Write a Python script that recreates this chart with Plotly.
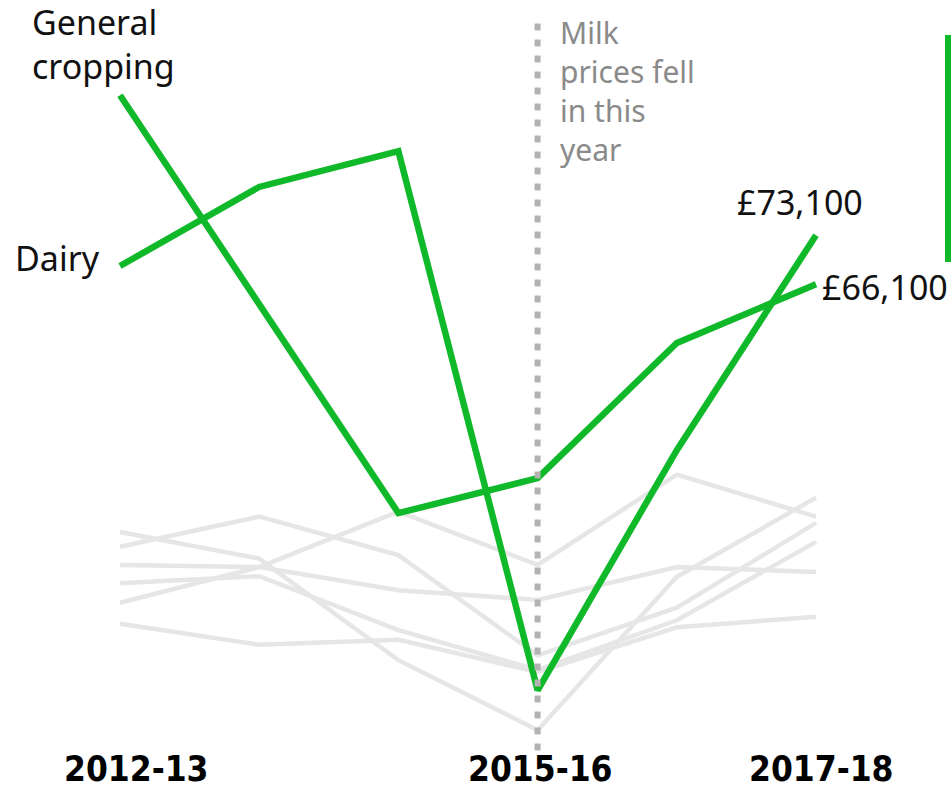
import plotly.graph_objects as go

years = ["2012-13", "2013-14", "2014-15", "2015-16", "2016-17", "2017-18"]
shown_years = ["2012-13", "2015-16", "2017-18"]
year_label_shift = {"2012-13": 17, "2015-16": 3, "2017-18": 5}

# Farm business income, £ thousands
general_cropping = [93.1, 63.1, 33.4, 38.4, 57.7, 66.1]
dairy = [68.7, 80.0, 85.1, 8.1, 42.4, 73.1]

other_farm_types = [
    [28.6, 32.9, 27.4, 13.1, 19.9, 32.0],
    [30.7, 26.9, 12.4, 2.4, 24.3, 35.6],
    [26.0, 25.7, 22.4, 21.0, 25.7, 25.0],
    [23.4, 24.4, 16.7, 11.0, 18.1, 29.3],
    [20.6, 25.7, 33.6, 26.0, 38.9, 32.9],
    [17.6, 14.6, 15.3, 10.7, 17.1, 18.6],
]

end_labels = ["£73,100", "£66,100"]

GREEN = "#10B92A"
GREY = "#E6E6E6"
DOT = "#B3B3B3"
FONT = "Noto Sans"

xs = list(range(len(years)))
fig = go.Figure()

for series in other_farm_types:
    fig.add_trace(go.Scatter(x=xs, y=series, mode="lines",
                             line=dict(color=GREY, width=4.5), hoverinfo="skip"))

for series in (general_cropping, dairy):
    fig.add_trace(go.Scatter(x=xs, y=series, mode="lines",
                             line=dict(color=GREEN, width=6.5), hoverinfo="skip"))

# dotted marker for 2015-16
mark = years.index("2015-16")
fig.add_trace(go.Scatter(x=[mark, mark], y=[-0.5, 103.5], mode="lines",
                         line=dict(color=DOT, width=6, dash="7px,9px"),
                         hoverinfo="skip"))

ann = []
ann.append(dict(x=0, y=general_cropping[0], xref="x", yref="y",
                text="General<br>cropping", showarrow=False,
                xanchor="left", yanchor="bottom", xshift=-90, yshift=4,
                align="left", font=dict(family=FONT, size=34, color="#111")))
ann.append(dict(x=0, y=dairy[0], xref="x", yref="y", text="Dairy",
                showarrow=False, xanchor="right", yanchor="middle",
                xshift=-18, yshift=8, font=dict(family=FONT, size=34, color="#111")))
ann.append(dict(x=5, y=dairy[-1], xref="x", yref="y", text=end_labels[0],
                showarrow=False, xanchor="center", yanchor="bottom",
                xshift=-16, yshift=8, font=dict(family=FONT, size=34, color="#111")))
ann.append(dict(x=5, y=general_cropping[-1], xref="x", yref="y", text=end_labels[1],
                showarrow=False, xanchor="left", yanchor="middle",
                xshift=4, yshift=-3, font=dict(family=FONT, size=34, color="#111")))
ann.append(dict(x=mark, y=105.3, xref="x", yref="y",
                text="Milk<br>prices fell<br>in this<br>year",
                showarrow=False, xanchor="left", yanchor="top", xshift=20,
                align="left", font=dict(family=FONT, size=30, color="#8A8A8A")))
for yr in shown_years:
    ann.append(dict(x=years.index(yr), y=0, xref="x", yref="paper", text="<b>%s</b>" % yr,
                    showarrow=False, xanchor="center", yanchor="bottom", yshift=0,
                    xshift=year_label_shift[yr],
                    font=dict(family="DejaVu Sans Condensed", size=35, color="#000")))

fig.update_layout(
    width=952, height=791,
    margin=dict(l=0, r=0, t=0, b=0),
    paper_bgcolor="white", plot_bgcolor="white",
    showlegend=False,
    xaxis=dict(range=[-0.862, 5.977], visible=False, fixedrange=True),
    yaxis=dict(range=[-6.29, 106.7], visible=False, fixedrange=True),
    annotations=ann,
    shapes=[dict(type="line", xref="paper", yref="paper",
                 x0=948 / 952, x1=948 / 952, y0=1 - 35 / 791, y1=1 - 262 / 791,
                 line=dict(color=GREEN, width=6))],
)

fig.write_html("out.html", config={"displayModeBar": False},
               post_script="document.body.style.margin='0';")
